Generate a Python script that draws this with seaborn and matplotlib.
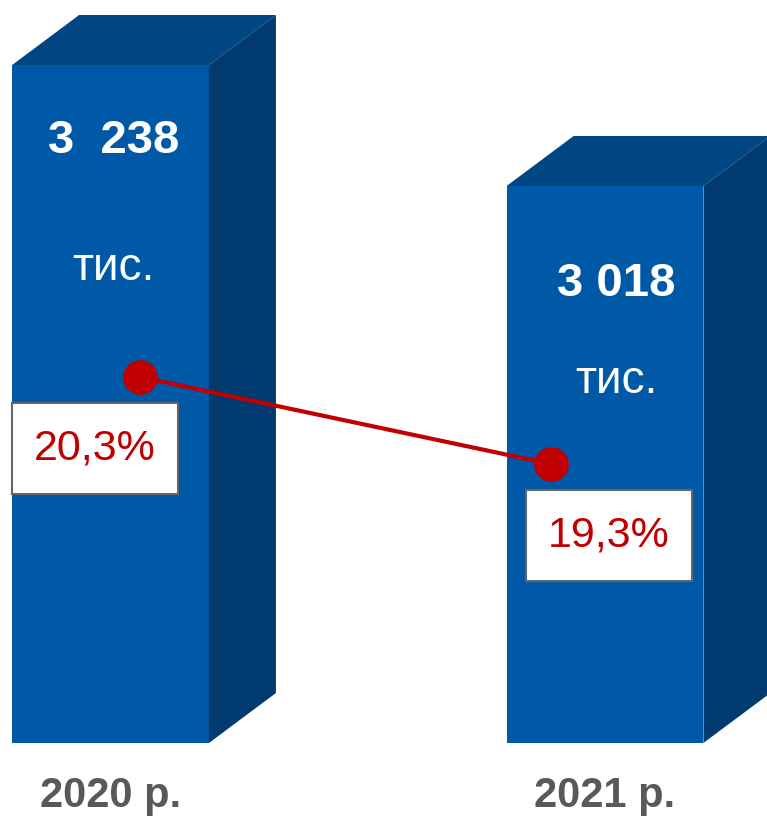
import numpy as np
import pandas as pd
import seaborn as sns
import matplotlib.pyplot as plt
from matplotlib.patches import Polygon, Rectangle

# chart data
years = ['2020 р.', '2021 р.']
totals = [3238, 3018]
total_labels = ['3  238', '3 018']
unit_label = 'тис.'
shares = [20.3, 19.3]
share_labels = ['20,3%', '19,3%']

sns.set_style('white')
plt.rcParams['font.family'] = ['Liberation Sans', 'DejaVu Sans']

FRONT = '#0059A6'
TOP = '#004683'
SIDE = '#003A6E'
RED = '#C00000'
GREY = '#595959'

W, H = 767, 819
BASE = 743  # pixel row of bar bottoms

fig = plt.figure(figsize=(W / 100, H / 100), dpi=100)
ax = fig.add_axes([0, (H - BASE) / H, 1, BASE / H])

df = pd.DataFrame({'year': years, 'total': totals})
sns.barplot(data=df, x='year', y='total', color=FRONT, saturation=1,
            width=0.398, ax=ax, zorder=2, edgecolor='none', linewidth=0)
ax.set_xlim(-0.2235, 1.3276)
ax.set_ylim(2005.3, 3356.2)
sns.despine(ax=ax, left=True, bottom=True)
ax.set_yticks([])
ax.set_xlabel('')
ax.set_ylabel('')
ax.tick_params(axis='x', length=0, pad=24)
for t in ax.get_xticklabels():
    t.set_fontsize(30)
    t.set_fontweight('bold')
    t.set_color(GREY)

xr = ax.get_xlim()[1] - ax.get_xlim()[0]
yr = ax.get_ylim()[1] - ax.get_ylim()[0]
dx = 67 / W * xr
dy = 50 / BASE * yr
bottom = ax.get_ylim()[0]

# pixel overlay for annotations
lay = fig.add_axes([0, 0, 1, 1], zorder=5)
lay.set_xlim(0, W)
lay.set_ylim(H, 0)
lay.axis('off')
lay.patch.set_alpha(0)


def to_px(axis, x, y):
    X, Y = axis.transData.transform((x, y))
    return X, H - Y


value_drop = [76, 98]
unit_drop = [203, 195]
text_shift = [3, 11]
for i, p in enumerate(ax.patches[:len(totals)]):
    x0 = p.get_x()
    x1 = x0 + p.get_width()
    top = p.get_height()
    ax.add_patch(Polygon([(x0, top), (x0 + dx, top + dy), (x1 + dx, top + dy), (x1, top)],
                         closed=True, facecolor=TOP, edgecolor='none', zorder=2))
    ax.add_patch(Polygon([(x1, bottom), (x1, top), (x1 + dx, top + dy), (x1 + dx, bottom + dy)],
                         closed=True, facecolor=SIDE, edgecolor='none', zorder=2))
    cx, ty = to_px(ax, (x0 + x1) / 2, top)
    lay.text(cx + text_shift[i], ty + value_drop[i], total_labels[i], ha='center', va='center',
             fontsize=34, fontweight='bold', color='white')
    lay.text(cx + text_shift[i], ty + unit_drop[i], unit_label, ha='center', va='center',
             fontsize=33, color='white')

# share line on secondary scale
ax2 = ax.twinx()
ax2.set_ylim(16.093, 24.633)
ax2.set_yticks([])
sns.despine(ax=ax2, left=True, bottom=True, right=True)
share_x = [0.06, 0.89]
sns.lineplot(x=share_x, y=shares, ax=ax2, color=RED, lw=3, marker='o',
             markersize=25, markeredgewidth=0, zorder=3)
ax2.set_xlim(ax.get_xlim())

box_dx = [-45, 58]
box_dy = 72
bw, bh = 166, 91
for i in range(len(shares)):
    px, py = to_px(ax2, share_x[i], shares[i])
    bx, by = px + box_dx[i], py + box_dy
    lay.add_patch(Rectangle((bx - bw / 2, by - bh / 2), bw, bh, facecolor='white',
                            edgecolor='#666666', lw=1.5))
    lay.text(bx, by, share_labels[i], ha='center', va='center', fontsize=31, color=RED)

fig.savefig('out.png', dpi=100)
